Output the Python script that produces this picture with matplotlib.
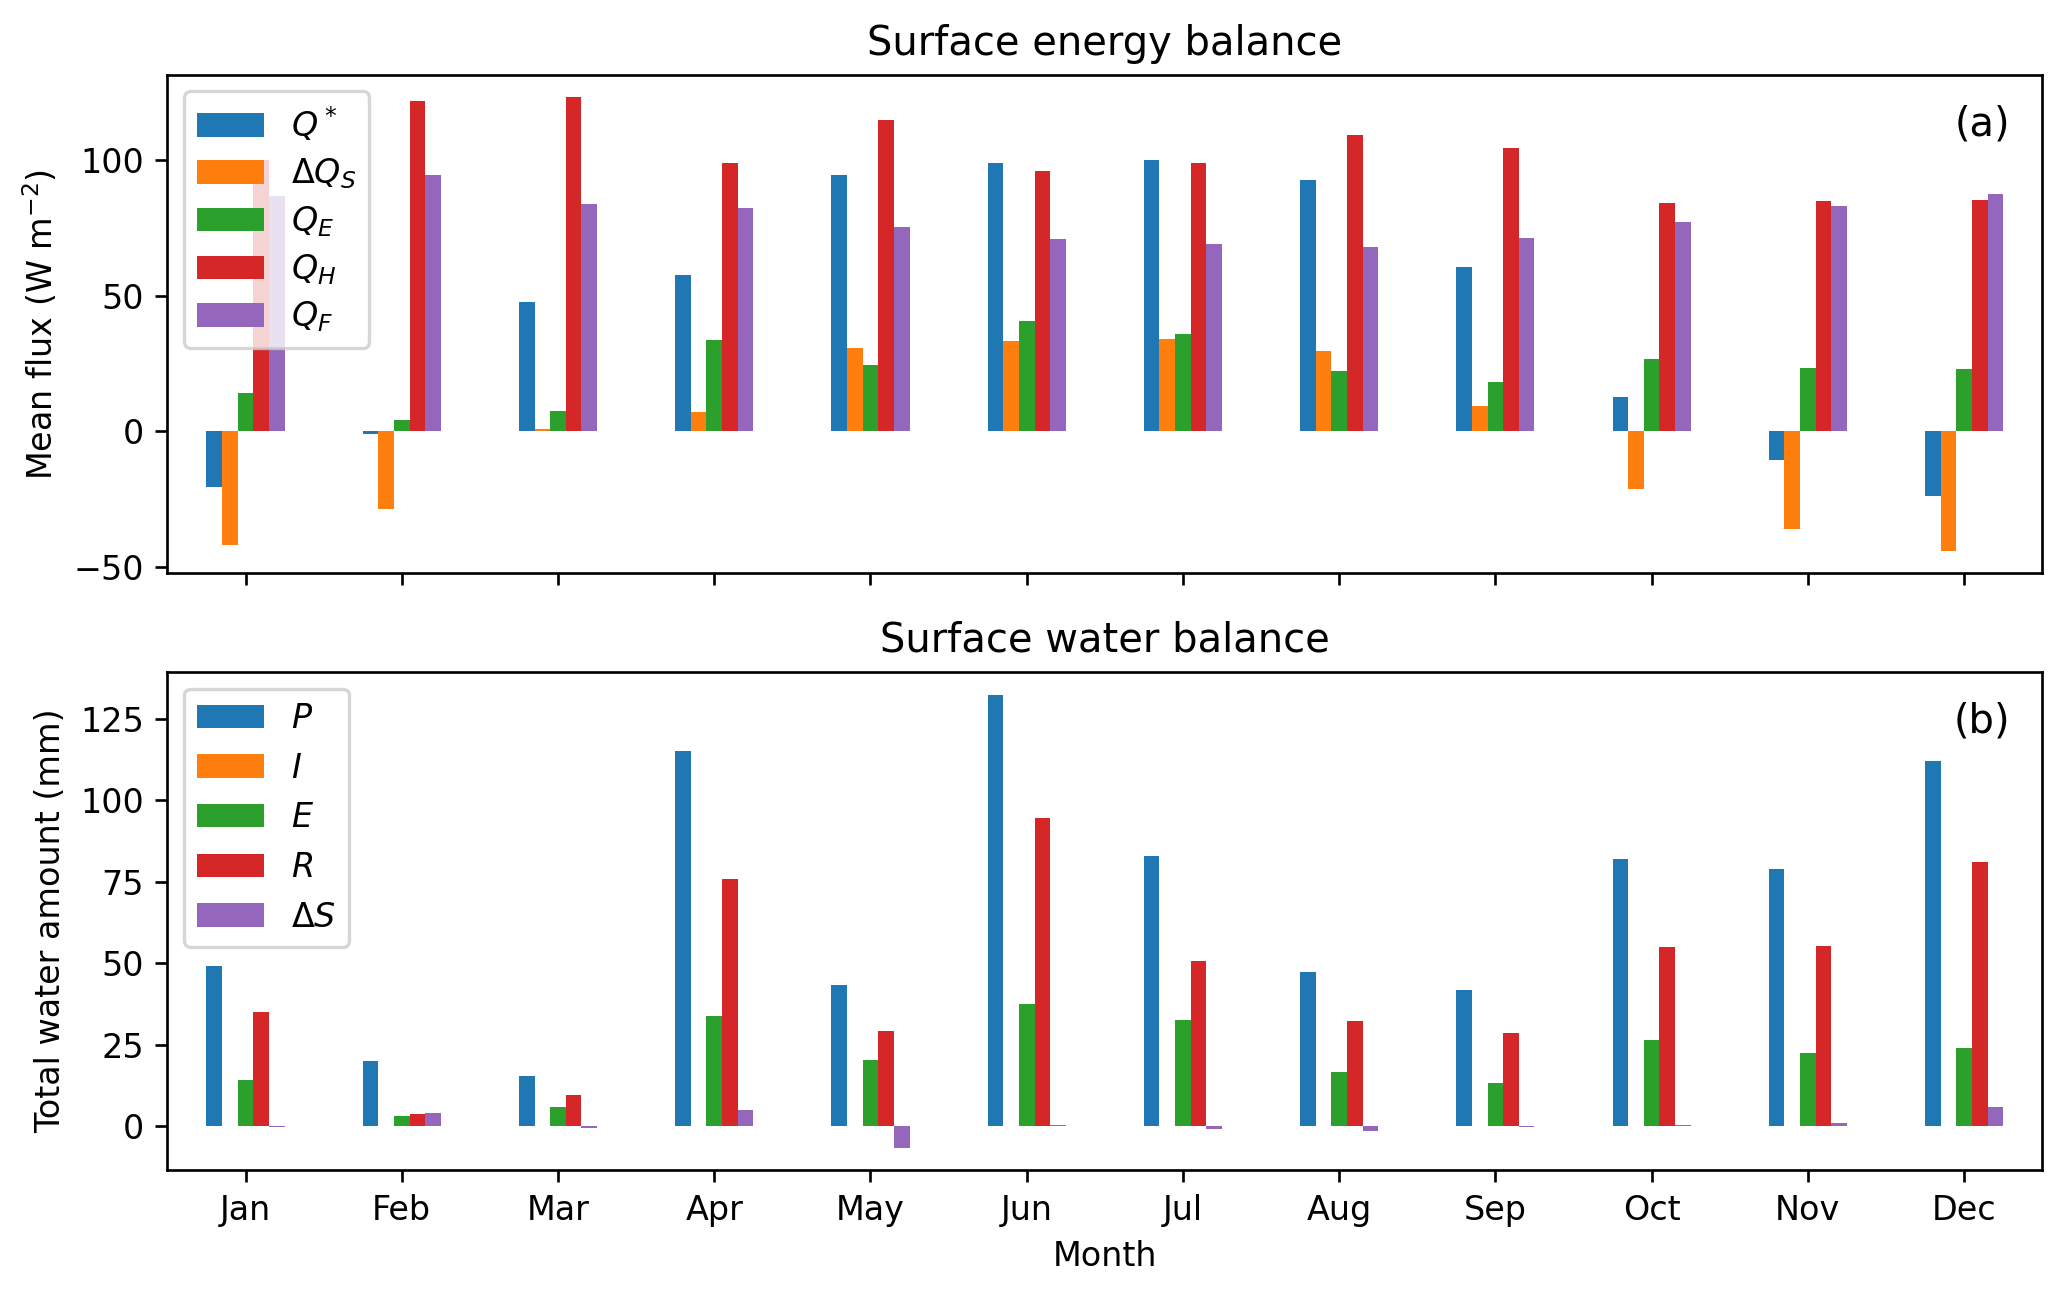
import numpy as np
import matplotlib
matplotlib.use("Agg")
import matplotlib.pyplot as plt

months = ["Jan", "Feb", "Mar", "Apr", "May", "Jun",
          "Jul", "Aug", "Sep", "Oct", "Nov", "Dec"]

# surface energy balance (W m-2)
q_star = [-20.5, -1.1, 47.7, 57.6, 94.6, 99.0, 99.9, 92.8, 60.7, 12.4, -10.7, -23.8]
dq_s = [-42.0, -28.7, 0.8, 7.1, 30.7, 33.2, 33.9, 29.4, 9.1, -21.4, -36.1, -44.1]
q_e = [13.9, 4.0, 7.4, 33.7, 24.5, 40.6, 35.8, 22.2, 18.2, 26.7, 23.1, 22.9]
q_h = [100.0, 121.6, 123.1, 99.0, 114.9, 95.8, 98.9, 109.1, 104.5, 84.2, 84.9, 85.1]
q_f = [86.8, 94.3, 83.7, 82.3, 75.2, 71.0, 68.9, 68.0, 71.3, 77.1, 82.9, 87.6]
energy_labels = ["$Q^*$", r"$\Delta Q_S$", "$Q_E$", "$Q_H$", "$Q_F$"]

# surface water balance (mm)
precip = [49.1, 19.9, 15.3, 115.0, 43.2, 132.4, 83.0, 47.4, 41.9, 81.9, 78.9, 111.9]
irrig = [0, 0, 0, 0, 0, 0, 0, 0, 0, 0, 0, 0]
evap = [14.3, 3.2, 5.9, 33.9, 20.4, 37.6, 32.7, 16.6, 13.2, 26.5, 22.4, 24.1]
runoff = [34.9, 3.8, 9.6, 75.9, 29.2, 94.5, 50.8, 32.2, 28.6, 55.0, 55.3, 80.9]
d_store = [-0.2, 4.2, -0.6, 5.0, -6.6, 0.4, -0.8, -1.5, -0.1, 0.5, 0.9, 5.9]
water_labels = ["$P$", "$I$", "$E$", "$R$", r"$\Delta S$"]

colors = ["#1f77b4", "#ff7f0e", "#2ca02c", "#d62728", "#9467bd"]

def grouped_bars(ax, series, labels, spacing=0.5):
    x = np.arange(len(months))
    w = 0.1
    n = len(series)
    for i, (vals, lab) in enumerate(zip(series, labels)):
        off = (i - (n - 1) / 2) * w
        ax.bar(x + off, vals, width=w, color=colors[i], label=lab)
    ax.set_xlim(-0.5, len(months) - 0.5)
    ax.set_xticks(x)
    ax.legend(loc="upper left", labelspacing=spacing)

dpi = 240
fig, (ax1, ax2) = plt.subplots(2, 1, sharex=True,
                               figsize=(2067 / dpi, 1289 / dpi), dpi=dpi)
fig.subplots_adjust(left=0.081, right=0.988, top=0.942, bottom=0.092, hspace=0.198)

grouped_bars(ax1, [q_star, dq_s, q_e, q_h, q_f], energy_labels, spacing=0.39)
ax1.set_title("Surface energy balance")
ax1.set_ylabel("Mean flux (W m$^{-2}$)")
ax1.text(0.983, 0.9, "(a)", transform=ax1.transAxes, ha="right", va="center", fontsize=12)

grouped_bars(ax2, [precip, irrig, evap, runoff, d_store], water_labels)
ax2.set_title("Surface water balance")
ax2.set_ylabel("Total water amount (mm)")
ax2.set_xlabel("Month")
ax2.set_xticklabels(months)
ax2.text(0.983, 0.9, "(b)", transform=ax2.transAxes, ha="right", va="center", fontsize=12)

fig.savefig("out.png", dpi=dpi)
